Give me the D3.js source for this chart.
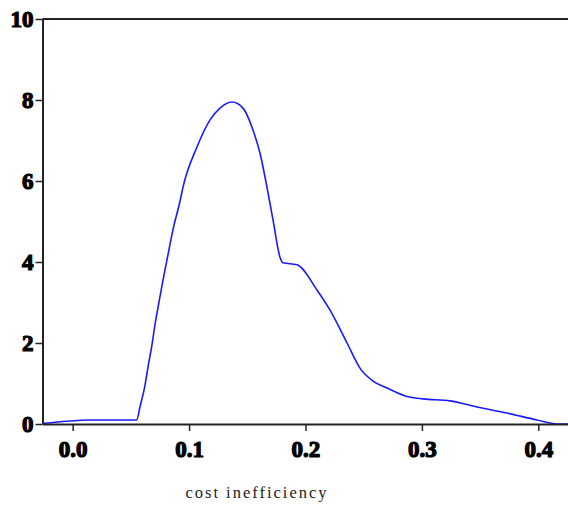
<!DOCTYPE html>
<html>
<head>
<meta charset="utf-8">
<script src="https://cdn.jsdelivr.net/npm/d3@7"></script>
<style>
  body { margin: 0; background: #fff; }
  .tick text { font-family: "Liberation Serif", serif; font-weight: bold; }
</style>
</head>
<body>
<div id="chart"></div>
<script>
// kernel density estimate
var xVals = [-0.026, -0.0126, 0.013, 0.055, 0.0578, 0.0621, 0.0647, 0.0681, 0.0707, 0.0741,
             0.0776, 0.0819, 0.0862, 0.0922, 0.0948, 0.1068, 0.118, 0.1266, 0.1369, 0.1463,
             0.1549, 0.1609, 0.1669, 0.1721, 0.1781, 0.1807, 0.1927, 0.2099, 0.2211, 0.2357,
             0.2468, 0.258, 0.27, 0.2872, 0.3009, 0.3241, 0.3473, 0.373, 0.3988, 0.416, 0.4255];
var density = [0.01, 0.05, 0.1, 0.1, 0.42, 0.95, 1.4, 1.95, 2.45, 3.0,
               3.55, 4.18, 4.8, 5.5, 5.85, 6.84, 7.51, 7.80, 7.95, 7.80,
               7.26, 6.69, 5.85, 5.04, 4.12, 3.98, 3.93, 3.31, 2.81, 2.0,
               1.38, 1.06, 0.89, 0.68, 0.62, 0.57, 0.42, 0.27, 0.10, 0.0, 0.0];

var xTicks = [0, 0.1, 0.2, 0.3, 0.4];
var yTicks = [0, 2, 4, 6, 8, 10];
var xTitle = "cost inefficiency";

var w = 568, h = 508;
var plotLeft = 42.5, plotTop = 19, plotBottom = 424;

var svg = d3.select("#chart").append("svg")
    .attr("width", w)
    .attr("height", h);

var xscale = d3.scaleLinear()
    .domain([-0.0259, 0.4255])
    .range([plotLeft, w]);

var yscale = d3.scaleLinear()
    .domain([0, 10])
    .range([plotBottom, plotTop]);

var pts = xVals.map(function(d, i) { return { x: d, y: density[i] }; });

var line = d3.line()
    .x(function(d) { return xscale(d.x); })
    .y(function(d) { return yscale(d.y); })
    .curve(d3.curveMonotoneX);

svg.append("path")
    .attr("d", line(pts))
    .attr("fill", "none")
    .attr("stroke", "#1a1aff")
    .attr("stroke-width", 1.6);

// top frame line
svg.append("line")
    .attr("x1", plotLeft).attr("x2", w)
    .attr("y1", yscale(10)).attr("y2", yscale(10))
    .attr("stroke", "#222")
    .attr("stroke-width", 2);

// x axis
var gx = svg.append("g")
    .attr("transform", "translate(0," + plotBottom + ")")
    .call(d3.axisBottom(xscale)
        .tickValues(xTicks)
        .tickFormat(d3.format(".1f"))
        .tickSize(7)
        .tickSizeOuter(0)
        .tickPadding(10));
gx.select(".domain").attr("stroke", "#222").attr("stroke-width", 2);
gx.selectAll(".tick line").attr("stroke", "#222").attr("stroke-width", 1.5);
gx.selectAll(".tick text")
    .attr("font-size", 23)
    .attr("fill", "#000")
    .attr("stroke", "#000")
    .attr("stroke-width", 1.2);

// y axis
var gy = svg.append("g")
    .attr("transform", "translate(" + plotLeft + ",0)")
    .call(d3.axisLeft(yscale)
        .tickValues(yTicks)
        .tickFormat(d3.format("d"))
        .tickSize(7)
        .tickSizeOuter(0)
        .tickPadding(2));
gy.select(".domain").attr("stroke", "#222").attr("stroke-width", 2);
gy.selectAll(".tick line").attr("stroke", "#222").attr("stroke-width", 1.5);
gy.selectAll(".tick text")
    .attr("font-size", 23)
    .attr("fill", "#000")
    .attr("stroke", "#000")
    .attr("stroke-width", 1.2);

// axis title
svg.append("text")
    .attr("x", 257)
    .attr("y", 498)
    .attr("text-anchor", "middle")
    .attr("font-family", "Liberation Serif, serif")
    .attr("font-size", 16.5)
    .attr("letter-spacing", 2)
    .attr("fill", "#222")
    .text(xTitle);
</script>
</body>
</html>
